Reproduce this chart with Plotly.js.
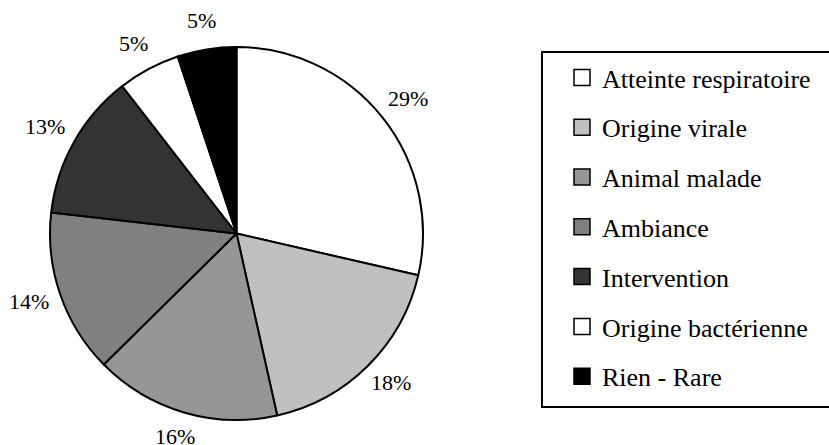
<!DOCTYPE html>
<html>
<head>
<meta charset="utf-8">
<script src="https://cdn.plot.ly/plotly-3.0.1.min.js"></script>
<style>html,body{margin:0;padding:0;background:#fff;}#chart{width:829px;height:445px;}</style>
</head>
<body>
<div id="chart"></div>
<script>
const categories = ["Atteinte respiratoire", "Origine virale", "Animal malade", "Ambiance", "Intervention", "Origine bactérienne", "Rien - Rare"];
const shares = [28.6, 17.9, 16.1, 14.2, 12.7, 5.4, 5.1];
const colors = ["#ffffff", "#c0c0c0", "#969696", "#808080", "#333333", "#ffffff", "#000000"];

const W = 829, H = 445;
const serif = "Liberation Serif, Times New Roman, serif";

// pie placement (pixels): domain box of the pie
const PIE = {left: 50, right: 423, top: 47, bottom: 420};
const cx = (PIE.left + PIE.right) / 2, cy = (PIE.top + PIE.bottom) / 2;
const R = Math.min(PIE.right - PIE.left, PIE.bottom - PIE.top) / 2;
const LABEL_GAP_X = 33, LABEL_GAP_Y = 27, LABEL_LIFT = 2;

const pie = {
  type: "pie",
  values: shares,
  labels: categories,
  sort: false,
  direction: "clockwise",
  rotation: 0,
  marker: {colors: colors, line: {color: "#000", width: 2}},
  textinfo: "none",
  showlegend: false,
  hoverinfo: "none",
  domain: {x: [PIE.left / W, PIE.right / W], y: [1 - PIE.bottom / H, 1 - PIE.top / H]}
};

// percentage labels placed just outside each slice, at the slice's mid angle
const total = shares.reduce((a, b) => a + b, 0);
let cum = 0;
const labelAnnotations = shares.map(v => {
  const mid = (cum + v / 2) / total * 2 * Math.PI;
  cum += v;
  const px = cx + (R + LABEL_GAP_X) * Math.sin(mid);
  const py = cy - (R + LABEL_GAP_Y) * Math.cos(mid) - LABEL_LIFT;
  return {
    xref: "paper", yref: "paper", x: px / W, y: 1 - py / H,
    xanchor: "center", yanchor: "middle", showarrow: false,
    text: Math.round(v / total * 100) + "%",
    font: {family: serif, size: 22, color: "#000"}
  };
});

const legendTraces = categories.map((c, i) => ({
  type: "scatter",
  mode: "markers",
  x: [null], y: [null],
  name: c,
  legendgroup: "g" + i,
  marker: {symbol: "square", size: 17, color: colors[i], line: {color: "#000", width: 1.5}},
  hoverinfo: "none"
}));

// legend frame (runs past the right edge of the picture, as in the original)
const legendFrame = {
  type: "rect", xref: "paper", yref: "paper", layer: "below",
  x0: 542 / W, x1: 1.03, y0: 1 - 407 / H, y1: 1 - 52 / H,
  line: {color: "#000", width: 2}, fillcolor: "#fff"
};

const layout = {
  width: W, height: H,
  margin: {l: 0, r: 0, t: 0, b: 0, autoexpand: false},
  paper_bgcolor: "#fff", plot_bgcolor: "#fff",
  xaxis: {visible: false}, yaxis: {visible: false},
  annotations: labelAnnotations,
  shapes: [legendFrame],
  showlegend: true,
  legend: {
    x: 542 / W, xanchor: "left", y: 1 - 54 / H, yanchor: "top",
    bgcolor: "rgba(0,0,0,0)", borderwidth: 0,
    font: {family: serif, size: 26, color: "#000"},
    tracegroupgap: 13,
    itemwidth: 30,
    indentation: 20,
    itemclick: false, itemdoubleclick: false
  }
};

Plotly.newPlot("chart", [pie].concat(legendTraces), layout, {displayModeBar: false, staticPlot: true});
</script>
</body>
</html>
